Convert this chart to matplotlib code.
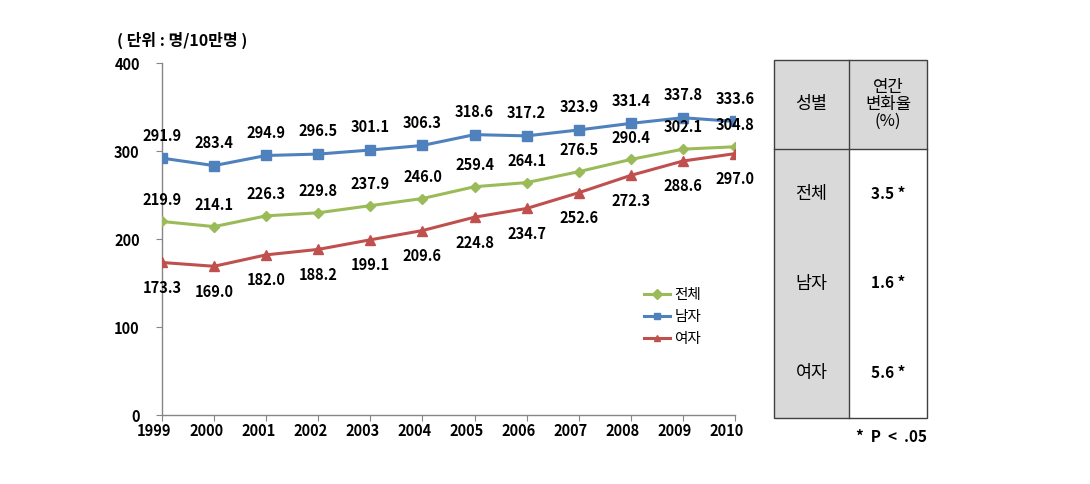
import matplotlib
matplotlib.use("Agg")
import matplotlib.pyplot as plt
import matplotlib.transforms as mtransforms
from matplotlib.patches import Rectangle

plt.rcParams['font.family'] = ['Noto Sans CJK KR', 'DejaVu Sans']

years = ['1999', '2000', '2001', '2002', '2003', '2004', '2005', '2006', '2007', '2008', '2009', '2010']
total = [219.9, 214.1, 226.3, 229.8, 237.9, 246.0, 259.4, 264.1, 276.5, 290.4, 302.1, 304.8]
male = [291.9, 283.4, 294.9, 296.5, 301.1, 306.3, 318.6, 317.2, 323.9, 331.4, 337.8, 333.6]
female = [173.3, 169.0, 182.0, 188.2, 199.1, 209.6, 224.8, 234.7, 252.6, 272.3, 288.6, 297.0]
series_names = ['전체', '남자', '여자']
yticks = [0, 100, 200, 300, 400]

table_header = ['성별', '연간\n변화율\n(%)']
table_groups = ['전체', '남자', '여자']
table_rates = ['3.5 *', '1.6 *', '5.6 *']

W, H = 1090, 484
fig = plt.figure(figsize=(W / 100, H / 100), dpi=100)
ax = fig.add_axes([162 / W, 1 - 415 / H, (735 - 162) / W, (415 - 63) / H])

x = list(range(len(years)))
colors = {'전체': '#9BBB59', '남자': '#4F81BD', '여자': '#C0504D'}
markers = {'전체': 'D', '남자': 's', '여자': '^'}
msize = {'전체': 5.5, '남자': 7.5, '여자': 7.5}
data = {'전체': total, '남자': male, '여자': female}

for name in series_names:
    ax.plot(x, data[name], color=colors[name], lw=2.2, marker=markers[name],
            markersize=msize[name], label=name, zorder=3)

# data labels
for i, v in enumerate(male):
    ax.annotate(f'{v:.1f}', (i, v), xytext=(0, 10.5), textcoords='offset points',
                ha='center', va='bottom', fontsize=10.5, fontweight='bold')
for i, v in enumerate(total):
    ax.annotate(f'{v:.1f}', (i, v), xytext=(0, 10), textcoords='offset points',
                ha='center', va='bottom', fontsize=10.5, fontweight='bold')
for i, v in enumerate(female):
    ax.annotate(f'{v:.1f}', (i, v), xytext=(0, -12.5), textcoords='offset points',
                ha='center', va='top', fontsize=10.5, fontweight='bold')

ax.set_xlim(0, len(years) - 1)
ax.set_ylim(0, 400)
ax.set_xticks(x)
ax.set_xticklabels(years, fontsize=10.5, fontweight='bold')
ax.set_yticks(yticks)
ax.set_yticklabels([str(t) for t in yticks], fontsize=10.5, fontweight='bold')
ax.tick_params(axis='y', length=4, pad=12, color='#868686')
ax.tick_params(axis='x', length=4, pad=2, color='#868686')
offset = mtransforms.ScaledTranslation(-8 / 100, 0, fig.dpi_scale_trans)
for lab in ax.get_xticklabels():
    lab.set_transform(lab.get_transform() + offset)
for s in ['top', 'right']:
    ax.spines[s].set_visible(False)
for s in ['left', 'bottom']:
    ax.spines[s].set_color('#868686')
    ax.spines[s].set_linewidth(1.0)
ax.patch.set_alpha(0)

leg = ax.legend(loc='upper left', bbox_to_anchor=((638 - 162) / (735 - 162), (415 - 282) / (415 - 63)),
                frameon=False, fontsize=10.5, handlelength=1.8, handletextpad=0.3,
                labelspacing=0.55, borderaxespad=0)
for h in leg.legend_handles:
    h.set_markersize(5)

fig.text(117 / W, 1 - 40 / H, '( 단위 : 명/10만명 )', fontsize=11.5, fontweight='bold',
         ha='left', va='center')

# table
def fx(px):
    return px / W

def fy(py):
    return 1 - py / H

L, M, R = 774, 849, 927
T, HL, B = 60, 149, 418
gray = '#D9D9D9'
fig.patches.append(Rectangle((fx(L), fy(B)), fx(M) - fx(L), fy(T) - fy(B),
                             transform=fig.transFigure, facecolor=gray, edgecolor='none'))
fig.patches.append(Rectangle((fx(M), fy(HL)), fx(R) - fx(M), fy(T) - fy(HL),
                             transform=fig.transFigure, facecolor=gray, edgecolor='none'))
fig.patches.append(Rectangle((fx(L), fy(B)), fx(R) - fx(L), fy(T) - fy(B),
                             transform=fig.transFigure, facecolor='none', edgecolor='#404040', lw=1.0))
fig.add_artist(plt.Line2D([fx(M), fx(M)], [fy(T), fy(B)], transform=fig.transFigure, color='#404040', lw=1.0))
fig.add_artist(plt.Line2D([fx(L), fx(R)], [fy(HL), fy(HL)], transform=fig.transFigure, color='#404040', lw=1.0))

fig.text(fx((L + M) / 2), fy((T + HL) / 2), table_header[0], ha='center', va='center', fontsize=12.5)
fig.text(fx((M + R) / 2), fy((T + HL) / 2), table_header[1], ha='center', va='center', fontsize=12,
         linespacing=1.0)
row_h = (B - HL) / 3
for k, (g, r) in enumerate(zip(table_groups, table_rates)):
    cy = HL + row_h * (k + 0.5)
    fig.text(fx((L + M) / 2), fy(cy), g, ha='center', va='center', fontsize=12.5)
    fig.text(fx((M + R) / 2), fy(cy), r, ha='center', va='center', fontsize=11, fontweight='bold')
fig.text(fx(R), fy(437), '*  P  <  .05', ha='right', va='center', fontsize=11, fontweight='bold')

fig.savefig('out.png', dpi=100)
